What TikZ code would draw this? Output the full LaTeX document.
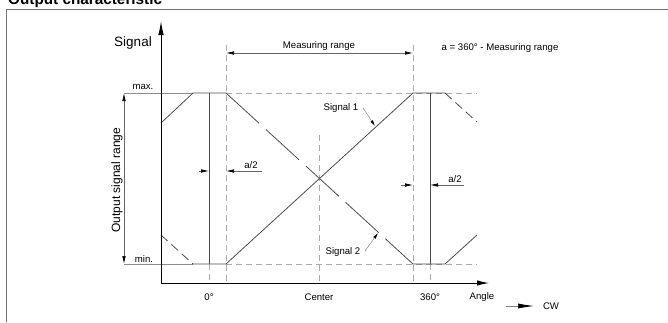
\documentclass[tikz,border=0pt]{standalone}
\usepackage{fontspec}
\setmainfont{Liberation Sans}
\usetikzlibrary{arrows.meta}
\begin{document}
\begin{tikzpicture}[x=1pt,y=-1pt,
 lbl/.style={inner sep=0pt, font=\fontsize{9.6}{11}\selectfont},
 axis/.style={draw=black, line width=1pt},
 curve/.style={draw=black!70, line width=0.8pt},
 refline/.style={draw=black!33, line width=0.8pt, dash pattern=on 6pt off 4pt},
 longdash/.style={curve, dash pattern=on 45pt off 9pt},
 shortdash/.style={curve, dash pattern=on 9pt off 5pt},
 dimline/.style={draw=black!60, line width=0.6pt},
 bigtip/.style={-{Latex[length=14pt,width=5.5pt,black]}},
 tip/.style={-{Latex[length=8pt,width=3.5pt,black]}},
 twotip/.style={{Latex[length=8pt,width=3.5pt,black]}-{Latex[length=8pt,width=3.5pt,black]}},
]
\useasboundingbox (0,0) rectangle (668,322);
% frame and title
\coordinate (fb) at (6,322); \coordinate (ftl) at (6,9); \coordinate (fr) at (668,9);
\draw[draw=black!55, line width=0.8pt] (fb) -- (ftl) -- (fr);
\node[anchor=base west, inner sep=0pt, font=\fontsize{15.3}{17}\selectfont\bfseries] (title) at (8,4) {Output characteristic};

% key coordinates
\coordinate (O) at (161,283);
\coordinate (ytop) at (161,21);
\coordinate (xend) at (489,283);
\coordinate (maxL) at (124,93); \coordinate (minL) at (124,264);
\coordinate (maxA) at (193,93); \coordinate (minA) at (193,264);
\coordinate (maxB) at (226,93); \coordinate (minB) at (226,264);
\coordinate (maxC) at (413,93); \coordinate (minC) at (413,264);
\coordinate (maxD) at (445,93); \coordinate (minD) at (445,264);
\coordinate (maxE) at (477,93); \coordinate (minE) at (477,264);

% reference lines
\draw[draw=black!45, line width=0.7pt] (maxL) -- (maxA);
\draw[draw=black!45, line width=0.7pt] (minL) -- (minA);
\draw[refline] (maxB) -- (maxE);
\draw[refline] (minB) -- (minE);
\coordinate (mrL) at (226,45); \coordinate (mrR) at (413,45);
\coordinate (mrLb) at (226,283); \coordinate (mrRb) at (413,283);
\draw[refline] (mrL) -- (mrLb);
\draw[refline] (mrR) -- (mrRb);
\coordinate (ct) at (319,135); \coordinate (cb) at (319,283);
\draw[refline] (ct) -- (cb);
\coordinate (z0t) at (209,93); \coordinate (z0m) at (209,264); \coordinate (z0b) at (209,283);
\coordinate (z3t) at (430,93); \coordinate (z3m) at (430,264); \coordinate (z3b) at (430,283);
\draw[refline] (z0m) -- (z0b);
\draw[refline] (z3m) -- (z3b);
\draw[curve] (z0t) -- (z0m);
\draw[curve] (z3t) -- (z3m);

% signals
\coordinate (s1a) at (161,123);
\coordinate (s2a) at (161,235);
\coordinate (s1e) at (477,122);
\coordinate (s2e) at (477,235);
\draw[curve] (s1a) -- (maxA) -- (maxB);
\draw[longdash] (maxB) -- (minC);
\draw[curve] (minC) -- (minD) -- (s2e);
\draw[shortdash] (s2a) -- (minA);
\draw[curve] (minA) -- (minB) -- (maxC) -- (maxD);
\draw[shortdash] (maxD) -- (s1e);

% axes
\draw[axis, bigtip] (O) -- (ytop);
\draw[axis, -{Latex[length=12pt,width=5.5pt,black]}] (O) -- (xend);

% measuring range
\coordinate (mrdl) at (226,53); \coordinate (mrdr) at (413,53);
\draw[dimline, twotip] (mrdl) -- (mrdr);
\node[lbl] (mr) at (319,46) {Measuring range};
\node[lbl] (aeq) at (500,48) {a = 360° - Measuring range};

% output signal range
\draw[dimline, twotip] (maxL) -- (minL);
\node[inner sep=0pt, font=\fontsize{12}{14}\selectfont, rotate=90] (osr) at (117,180) {Output signal range};
\node[inner sep=0pt, font=\fontsize{13.5}{15}\selectfont, anchor=base] (sig) at (133,46) {Signal};
\node[lbl] (mx) at (143,87) {max.};
\node[lbl] (mn) at (144,259) {min.};

% a/2 left
\coordinate (a1s) at (199,171); \coordinate (a1t) at (209,171);
\coordinate (a2s) at (262,171); \coordinate (a2t) at (226,171);
\draw[dimline, tip] (a1s) -- (a1t);
\draw[dimline, tip] (a2s) -- (a2t);
\node[lbl] (ah1) at (251,165) {a/2};
% a/2 right
\coordinate (b1s) at (401,185); \coordinate (b1t) at (413,185);
\coordinate (b2s) at (464,185); \coordinate (b2t) at (430,185);
\draw[dimline, tip] (b1s) -- (b1t);
\draw[dimline, tip] (b2s) -- (b2t);
\node[lbl] (ah2) at (455,179) {a/2};

% signal labels
\node[lbl] (s1) at (341,108) {Signal 1};
\coordinate (s1s) at (363,108);
\coordinate (s1tip) at (375,126);
\draw[draw=black!45, line width=0.5pt, -{Latex[length=6pt,width=3pt,black]}] (s1s) -- (s1tip);
\node[lbl] (s2) at (343,252) {Signal 2};
\coordinate (s2s) at (365,251);
\coordinate (s2tip) at (378,233);
\draw[draw=black!45, line width=0.5pt, -{Latex[length=6pt,width=3pt,black]}] (s2s) -- (s2tip);

% axis labels
\node[lbl] (l0) at (209,297) {0°};
\node[lbl] (lc) at (319,297) {Center};
\node[lbl] (l360) at (430,297) {360°};
\node[lbl] (lang) at (482,297) {Angle};
\node[lbl] (cw) at (551,306) {CW};
\coordinate (cws) at (506,306);
\coordinate (cwe) at (534,306);
\draw[draw=black!50, line width=0.7pt, -{Latex[length=16pt,width=5pt,black]}] (cws) -- (cwe);
\end{tikzpicture}
\end{document}
